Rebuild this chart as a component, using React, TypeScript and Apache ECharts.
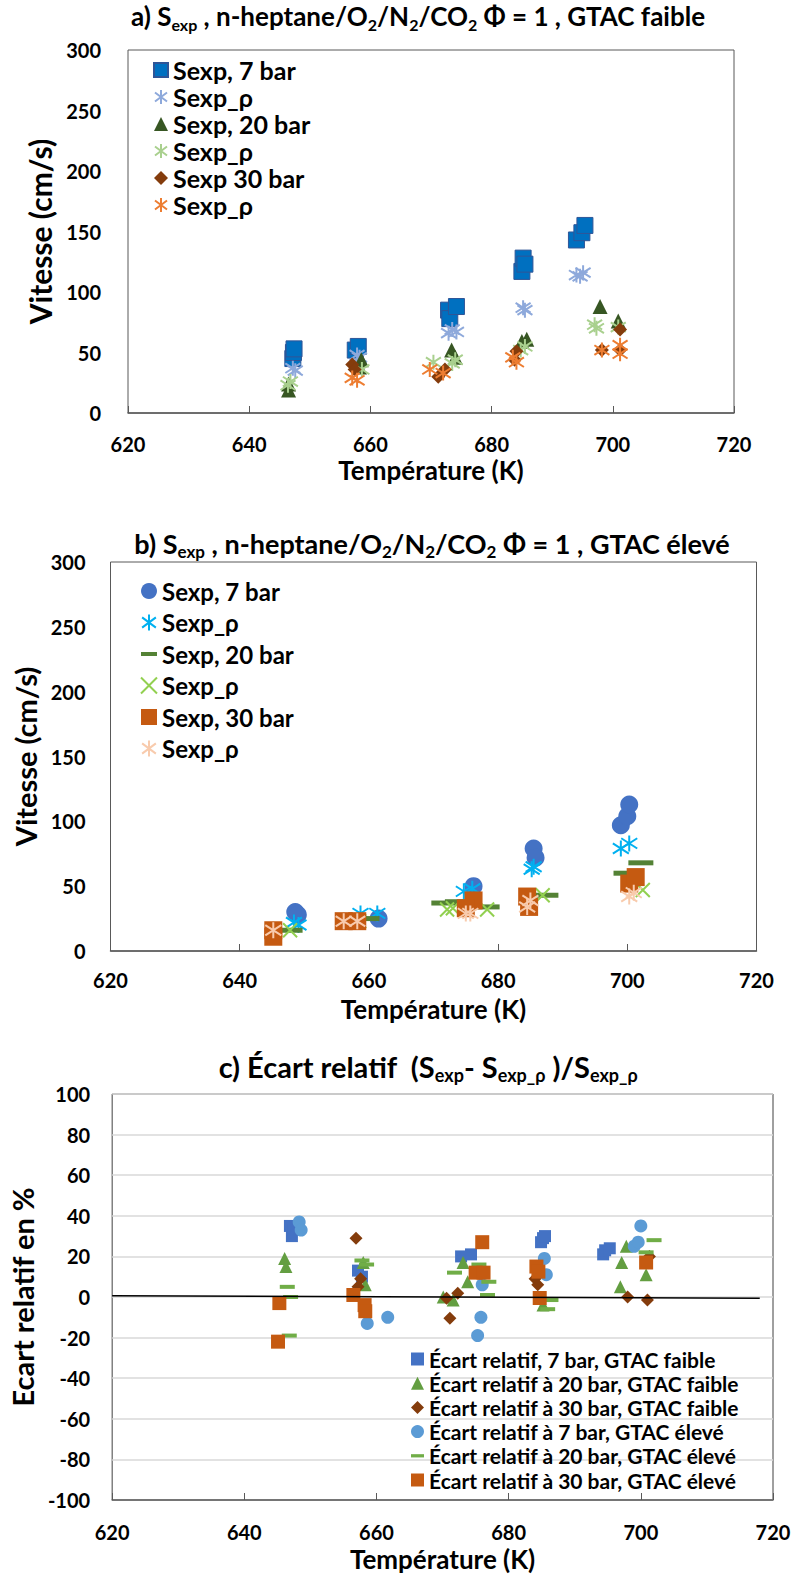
import React, { useEffect, useRef } from 'react';
import * as echarts from 'echarts';

const FONT = 'Lato, "Open Sans", "DejaVu Sans", sans-serif';

// ---------- Chart a) GTAC faible ----------
const aSexp7 = [[647.2,45],[647.3,50],[647.4,53],[657.5,52],[658,55],[672.9,85],[673.1,78],[674.2,88],[685,117],[685.2,128],[685.5,123],[694,143],[694.9,149],[695.4,155]];
const aRho7 = [[647.6,35],[647.2,37],[658.2,46],[657.8,48],[672.9,66],[674.2,67],[673.5,69],[685.2,87],[685.5,85],[694,114],[695.1,116],[694.6,113]];
const aSexp20 = [[646.5,24],[646.5,19],[658.5,44],[658.2,38],[673.4,52],[674,46],[685.8,61],[685,59],[697.9,88],[700.9,76]];
const aRho20 = [[646.4,23],[646.8,26],[658.6,36],[670.4,42],[674,44],[673.5,41],[685.5,55],[684.8,52],[697.3,70],[697,73],[700.9,71]];
const aSexp30 = [[657,40],[657.4,36],[671.2,30],[672.3,36],[684.1,51],[683.8,44],[698.2,52],[701.2,69],[701.2,52]];
const aRho30 = [[657,29],[657.8,27],[669.8,36],[672,33],[684.1,42],[683.5,46],[698.2,52],[701.2,56],[701.2,49]];

// ---------- Chart b) GTAC élevé ----------
const bSexp7 = [[648.6,30],[649,28],[661.5,25],[676.2,50],[685.5,79],[685.8,72],[699,97],[700,104],[700.3,113]];
const bRho7 = [[649.1,20],[648.4,22],[658.7,29],[661.3,29],[674.7,46],[676,48],[685.5,65],[685.2,63],[699,79],[700.3,83]];
const bSexp20 = [[647.8,16],[659.7,25],[671.6,37],[673.7,38],[678.3,34],[687.4,43],[699.8,60],[702.1,68]];
const bRho20 = [[647.8,16],[658.5,23],[672.1,32],[673,33],[678.3,32],[686.9,43],[702.4,47]];
const bSexp30 = [[645.2,11],[645.2,16],[656.1,23],[658.2,23],[676.2,39],[675,33],[684.5,42],[684.8,34],[700.3,52],[701.3,57]];
const bRho30 = [[645.2,16],[656.1,23],[658.2,23],[675.7,29],[675,29],[684.5,34],[685,39],[701,45],[700.3,42]];

// ---------- Chart c) Écart relatif ----------
const c7Faible = [[646.9,35],[647.2,30],[647.4,33],[657.2,13],[657.8,10],[672.8,20],[674.3,21],[684.9,27],[685.2,29],[685.5,30],[694.3,21],[694.6,23],[695.3,24]];
const c20Faible = [[646.1,19],[646.3,15],[658,17],[658.3,6],[670.1,0],[671.6,-1.5],[673.1,17],[673.8,7.5],[685.2,-4],[697.1,17],[696.9,5],[697.8,25],[700.8,11]];
const c30Faible = [[656.9,29],[657.6,9],[657.2,5],[670.6,-0.6],[671.1,-10.5],[672.3,1.8],[684,9],[684.4,6],[698,0],[701,-1.5],[701.3,20]];
const c7Eleve = [[648.3,37],[648.6,33],[658.6,-13],[661.7,-10],[676,6],[675.8,-10],[675.3,-19],[685.4,19],[685.7,11],[699,25],[699.6,27],[700,35]];
const c20Eleve = [[646.5,5],[646.8,-19],[647,0],[657.8,18],[658.5,16],[671.8,12],[675.5,16],[677,7.5],[676.8,1],[685.9,-6],[686.4,-1.5],[700.8,22],[702,28]];
const c30Eleve = [[645.1,-22],[645.3,-3],[656.5,1],[658.2,-4],[658.3,-7],[676,27],[675,12],[676.2,12],[684.2,15],[684.5,12.5],[684.7,-0.5],[700.8,17]];
const cZeroLine = [[620,0.6],[718,-0.6]];

const tempRange = { min: 620, max: 720, interval: 20 };
const speedRange = { min: 0, max: 300, interval: 50 };
const ecartRange = { min: -100, max: 100, interval: 20 };

const legendA = ['Sexp, 7 bar', 'Sexp_ρ', 'Sexp, 20 bar', 'Sexp_ρ', 'Sexp 30 bar', 'Sexp_ρ'];
const legendB = ['Sexp, 7 bar', 'Sexp_ρ', 'Sexp, 20 bar', 'Sexp_ρ', 'Sexp, 30 bar', 'Sexp_ρ'];
const legendC = [
  'Écart relatif, 7 bar, GTAC faible',
  'Écart relatif à 20 bar, GTAC faible',
  'Écart relatif à 30 bar, GTAC faible',
  'Écart relatif à 7 bar, GTAC élevé',
  'Écart relatif à 20 bar, GTAC élevé',
  'Écart relatif à 30 bar, GTAC élevé',
];

const STAR = 'path://M5,0L5,10M0.7,1.8L9.3,8.2M9.3,1.8L0.7,8.2';
const XMARK = 'path://M0,0L10,10M10,0L0,10';
const DASH_ICON = 'path://M0,0H12V3H0Z';

function fillSeries(name: string, data: number[][], idx: number, symbol: string, size: any, color: string, border?: string) {
  return {
    type: 'scatter', name, data, xAxisIndex: idx, yAxisIndex: idx,
    symbol, symbolSize: size,
    itemStyle: { color, borderColor: border || color, borderWidth: border ? 1 : 0, opacity: 1 },
  };
}
function strokeSeries(name: string, data: number[][], idx: number, symbol: string, size: number, color: string, w: number) {
  return {
    type: 'scatter', name, data, xAxisIndex: idx, yAxisIndex: idx,
    symbol, symbolSize: size,
    itemStyle: { color: 'rgba(0,0,0,0)', borderColor: color, borderWidth: w, opacity: 1 },
  };
}

function titleRich(x: number, y: number, text: string, size: number) {
  return {
    type: 'text', x, y, silent: true,
    style: {
      text, align: 'center', verticalAlign: 'middle',
      rich: {
        b: { fontFamily: FONT, fontWeight: 'bold', fontSize: size, lineHeight: Math.round(size * 1.25), fill: '#000' },
        s: { fontFamily: FONT, fontWeight: 'bold', fontSize: Math.round(size * 0.62), lineHeight: Math.round(size * 0.5), verticalAlign: 'bottom', fill: '#000' },
      },
    },
  };
}

function xAxisCfg(idx: number, labelMargin: number, nameGap: number, nameSize: number) {
  return {
    type: 'value', gridIndex: idx, ...tempRange,
    name: 'Température (K)', nameLocation: 'middle', nameGap,
    nameTextStyle: { fontFamily: FONT, fontWeight: 'bold', fontSize: nameSize, color: '#000' },
    axisLine: { show: true, onZero: false, lineStyle: { color: '#595959', width: 1.5 } },
    axisTick: { show: true, inside: true, length: 7, lineStyle: { color: '#595959', width: 1 } },
    axisLabel: { fontFamily: FONT, fontWeight: 'bold', fontSize: 20, color: '#000', margin: labelMargin },
    splitLine: { show: false },
  };
}
function yAxisCfg(idx: number, range: any, name: string, nameGap: number, nameSize: number, labelMargin: number, grid: boolean) {
  return {
    type: 'value', gridIndex: idx, ...range,
    name, nameLocation: 'middle', nameGap, nameRotate: 90,
    nameTextStyle: { fontFamily: FONT, fontWeight: 'bold', fontSize: nameSize, color: '#000' },
    axisLine: { show: false },
    axisTick: { show: false },
    axisLabel: { fontFamily: FONT, fontWeight: 'bold', fontSize: 20, color: '#000', margin: labelMargin },
    splitLine: { show: grid, lineStyle: { color: '#D9D9D9', width: 1.5 } },
  };
}

function legendCfg(names: string[], labels: string[], left: number, top: number, size: number, gap: number, iw: number, icons: (string | null)[]) {
  return {
    orient: 'vertical', left, top, itemWidth: iw, itemHeight: iw, itemGap: gap,
    selectedMode: false,
    textStyle: { fontFamily: FONT, fontWeight: 'bold', fontSize: size, color: '#000' },
    data: names.map((n, i) => (icons[i] ? { name: n, icon: icons[i] } : { name: n })),
    formatter: (n: string) => labels[names.indexOf(n)],
  };
}

export default function App() {
  const ref = useRef<HTMLDivElement>(null);
  useEffect(() => {
    const chart = echarts.init(ref.current!, null, { renderer: 'svg' });
    const namesA = ['a7', 'aR7', 'a20', 'aR20', 'a30', 'aR30'];
    const namesB = ['b7', 'bR7', 'b20', 'bR20', 'b30', 'bR30'];
    const namesC = ['c7f', 'c20f', 'c30f', 'c7e', 'c20e', 'c30e'];
    const option: any = {
      animation: false,
      backgroundColor: '#fff',
      grid: [
        { left: 128, right: 61, top: 50, height: 363, show: true, borderColor: '#595959', borderWidth: 1, backgroundColor: 'transparent' },
        { left: 110.5, right: 38.5, top: 562, height: 389, show: true, borderColor: '#595959', borderWidth: 1, backgroundColor: 'transparent' },
        { left: 99, right: 22, top: 1094, height: 406, show: true, borderColor: '#404040', borderWidth: 1, backgroundColor: 'transparent' },
      ],
      xAxis: [xAxisCfg(0, 21, 44, 26), xAxisCfg(1, 19, 45, 26), xAxisCfg(2, 22, 46, 26)],
      yAxis: [
        yAxisCfg(0, speedRange, 'Vitesse (cm/s)', 62, 30, 27, false),
        yAxisCfg(1, speedRange, 'Vitesse (cm/s)', 61, 29, 25, false),
        yAxisCfg(2, ecartRange, 'Ecart relatif en %', 56, 29, 22, true),
      ],
      legend: [
        legendCfg(namesA, legendA, 148, 52.5, 25, 2, 14, [null, null, null, null, null, null]),
        legendCfg(namesB, legendB, 135, 574, 24, 7.5, 16, [null, null, DASH_ICON, null, null, null]),
        legendCfg(namesC, legendC, 406, 1343.5, 21, 3.2, 13, [null, null, null, null, DASH_ICON, null]),
      ],
      graphic: [
        titleRich(418, 16, '{b|a) S}{s|exp}{b| , n-heptane/O}{s|2}{b|/N}{s|2}{b|/CO}{s|2}{b| Φ = 1 , GTAC faible}', 26),
        titleRich(432, 543, '{b|b) S}{s|exp}{b| , n-heptane/O}{s|2}{b|/N}{s|2}{b|/CO}{s|2}{b| Φ = 1 , GTAC élevé}', 27),
        titleRich(428, 1066, '{b|c) Écart relatif  (S}{s|exp}{b|- S}{s|exp_ρ}{b| )/S}{s|exp_ρ}', 29),
      ],
      series: [
        fillSeries('a7', aSexp7, 0, 'rect', 16, '#0070C0', '#2F5597'),
        strokeSeries('aR7', aRho7, 0, STAR, 15, '#8EA9DB', 2),
        fillSeries('a20', aSexp20, 0, 'triangle', 15, '#375623'),
        strokeSeries('aR20', aRho20, 0, STAR, 15, '#A9D08E', 2),
        fillSeries('a30', aSexp30, 0, 'diamond', 14, '#843C0C'),
        strokeSeries('aR30', aRho30, 0, STAR, 15, '#ED7D31', 2),

        fillSeries('b7', bSexp7, 1, 'circle', 18, '#4472C4'),
        strokeSeries('bR7', bRho7, 1, STAR, 16, '#00B0F0', 2),
        fillSeries('b20', bSexp20, 1, 'rect', [25, 5], '#548235'),
        strokeSeries('bR20', bRho20, 1, XMARK, 14, '#92D050', 2),
        fillSeries('b30', bSexp30, 1, 'rect', 18, '#C55A11'),
        strokeSeries('bR30', bRho30, 1, STAR, 16, '#F8CBAD', 2),

        { type: 'line', name: 'zero', data: cZeroLine, xAxisIndex: 2, yAxisIndex: 2, symbol: 'none', silent: true, lineStyle: { color: '#000', width: 1.5 } },
        fillSeries('c7f', c7Faible, 2, 'rect', 12, '#4472C4'),
        fillSeries('c20f', c20Faible, 2, 'triangle', 13, '#639E41'),
        fillSeries('c30f', c30Faible, 2, 'diamond', 13, '#843C0C'),
        fillSeries('c7e', c7Eleve, 2, 'circle', 13, '#5B9BD5'),
        fillSeries('c20e', c20Eleve, 2, 'rect', [15, 4], '#70AD47'),
        fillSeries('c30e', c30Eleve, 2, 'rect', 14, '#C55A11'),
      ],
    };
    chart.setOption(option);
    return () => chart.dispose();
  }, []);
  return <div ref={ref} style={{ position: 'fixed', left: 0, top: 0, width: 795, height: 1578, background: '#fff' }} />;
}
